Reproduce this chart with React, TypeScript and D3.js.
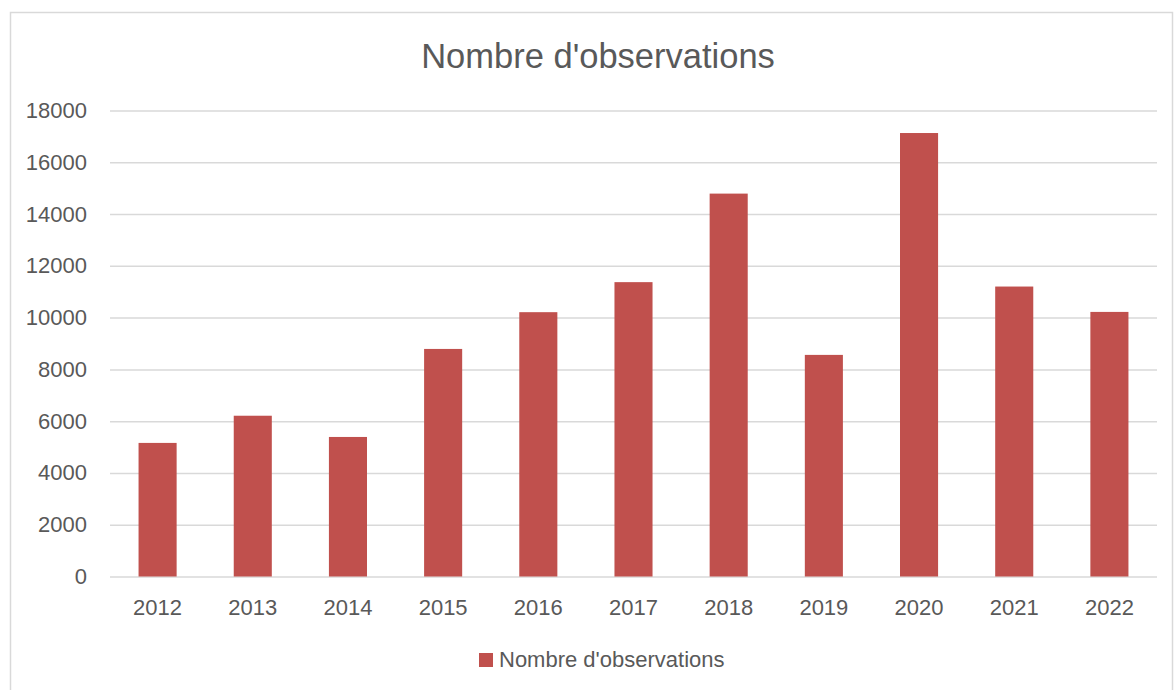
import { useEffect, useRef } from 'react';
import * as d3 from 'd3';

const years = ['2012', '2013', '2014', '2015', '2016', '2017', '2018', '2019', '2020', '2021', '2022'];
const observations = [5160, 6210, 5390, 8790, 10210, 11370, 14790, 8560, 17130, 11200, 10220];
const yTicks = [0, 2000, 4000, 6000, 8000, 10000, 12000, 14000, 16000, 18000];
const title = "Nombre d'observations";
const seriesName = "Nombre d'observations";

const WIDTH = 1174;
const HEIGHT = 690;
const BAR_COLOR = '#C0504D';
const TEXT_COLOR = '#595959';
const GRID_COLOR = '#d9d9d9';
const FONT = '"Liberation Sans", Arial, sans-serif';

export default function App() {
  const svgRef = useRef<SVGSVGElement>(null);

  useEffect(() => {
    if (!svgRef.current) return;
    const svg = d3.select(svgRef.current);
    svg.selectAll('*').remove();

    const margin = { top: 110.5, right: 17, bottom: 113.5, left: 110 };
    const width = WIDTH - margin.left - margin.right;
    const height = HEIGHT - margin.top - margin.bottom;

    // chart frame
    svg.append('rect')
      .attr('x', 10.5).attr('y', 12.5)
      .attr('width', 1162).attr('height', 700)
      .attr('fill', 'white')
      .attr('stroke', GRID_COLOR)
      .attr('stroke-width', 1.5);

    const g = svg.append('g').attr('transform', `translate(${margin.left},${margin.top})`);

    const x = d3.scaleBand().domain(years).range([0, width]).paddingInner(0.6).paddingOuter(0.3);
    const y = d3.scaleLinear().domain([0, 18000]).range([height, 0]);

    // grid lines
    g.append('g')
      .call(d3.axisLeft(y).tickValues(yTicks).tickSize(-width).tickFormat(() => ''))
      .call(s => s.select('.domain').remove())
      .call(s => s.selectAll('.tick line').attr('stroke', GRID_COLOR).attr('stroke-width', 1.5));

    // y labels
    g.append('g')
      .call(d3.axisLeft(y).tickValues(yTicks).tickSize(0).tickPadding(23).tickFormat(d => String(d)))
      .call(s => s.select('.domain').remove())
      .call(s => s.selectAll('.tick text')
        .attr('fill', TEXT_COLOR)
        .style('font-family', FONT)
        .style('font-size', '22px'));

    // x labels
    g.append('g')
      .attr('transform', `translate(0,${height})`)
      .call(d3.axisBottom(x).tickSize(0).tickPadding(23))
      .call(s => s.select('.domain').remove())
      .call(s => s.selectAll('.tick text')
        .attr('fill', TEXT_COLOR)
        .style('font-family', FONT)
        .style('font-size', '22px'));

    // bars
    g.selectAll('.bar')
      .data(years.map((yr, i) => ({ yr, v: observations[i] })))
      .join('rect')
      .attr('class', 'bar')
      .attr('x', d => x(d.yr)!)
      .attr('y', d => y(d.v))
      .attr('width', x.bandwidth())
      .attr('height', d => height - y(d.v))
      .attr('fill', BAR_COLOR);

    // title
    svg.append('text')
      .attr('x', 598)
      .attr('y', 68)
      .attr('text-anchor', 'middle')
      .attr('fill', TEXT_COLOR)
      .style('font-family', FONT)
      .style('font-size', '34.5px')
      .text(title);

    // legend
    const legend = svg.append('g').attr('transform', 'translate(479,653)');
    legend.append('rect').attr('width', 14).attr('height', 14).attr('fill', BAR_COLOR);
    legend.append('text')
      .attr('x', 20)
      .attr('y', 14)
      .attr('fill', TEXT_COLOR)
      .style('font-family', FONT)
      .style('font-size', '22px')
      .text(seriesName);
  }, []);

  return (
    <svg
      ref={svgRef}
      width={WIDTH}
      height={HEIGHT}
      style={{ position: 'absolute', left: 0, top: 0, background: 'white' }}
    />
  );
}
